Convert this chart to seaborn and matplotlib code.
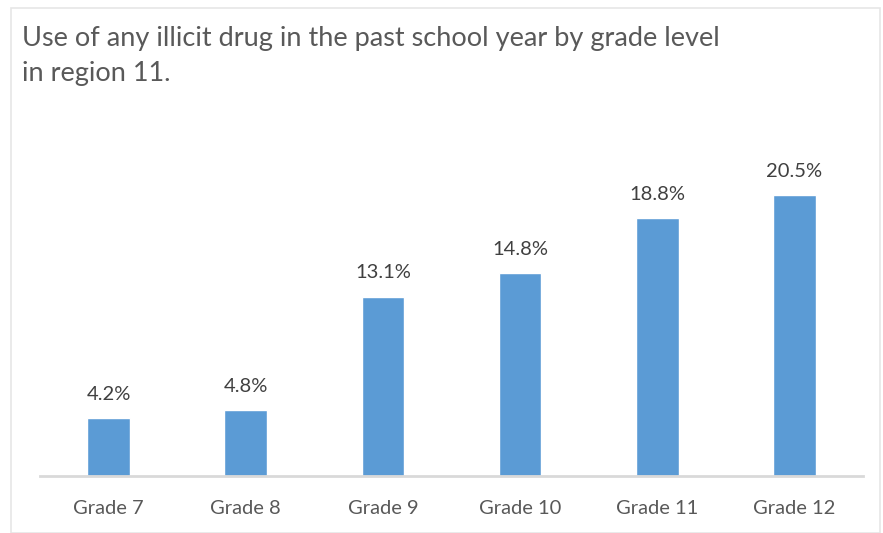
import matplotlib
matplotlib.use("Agg")
import matplotlib.pyplot as plt
import seaborn as sns
import pandas as pd
from matplotlib.patches import Rectangle

grades = ["Grade 7", "Grade 8", "Grade 9", "Grade 10", "Grade 11", "Grade 12"]
values = [4.2, 4.8, 13.1, 14.8, 18.8, 20.5]
labels = ["4.2%", "4.8%", "13.1%", "14.8%", "18.8%", "20.5%"]
title = "Use of any illicit drug in the past school year by grade level\nin region 11."

sns.set_theme(style="white")
plt.rcParams['font.family'] = ['Lato', 'DejaVu Sans']

W, H = 883, 533
fig = plt.figure(figsize=(W / 100, H / 100), dpi=100)
fig.patch.set_facecolor("white")
fig.add_artist(Rectangle((11 / W, 0), (880 - 11) / W, (H - 8) / H, transform=fig.transFigure,
                         fill=False, edgecolor="#E6E6E6", linewidth=1.2))

ax = fig.add_axes([40 / W, (H - 476) / H, (863 - 40) / W, (476 - 133.5) / H])
df = pd.DataFrame({"grade": grades, "value": values})
sns.barplot(data=df, x="grade", y="value", color="#5B9BD5", saturation=1, width=0.31, ax=ax)

ax.set_ylim(0, 25)
ax.set_xlim(-0.5, 5.5)
ax.set_xlabel("")
ax.set_ylabel("")
ax.set_yticks([])
for s in ["top", "right", "left"]:
    ax.spines[s].set_visible(False)
ax.spines["bottom"].set_color("#D9D9D9")
ax.spines["bottom"].set_linewidth(2)
ax.tick_params(axis="x", length=0, pad=17, labelsize=14.5, colors="#595959")

for i, (v, lab) in enumerate(zip(values, labels)):
    ax.annotate(lab, (i, v), xytext=(0, 11), textcoords="offset points", ha="center",
                va="bottom", fontsize=14.5, color="#404040")

fig.text(22 / W, 1 - 26 / H, title, ha="left", va="top", fontsize=19.5, color="#595959",
         linespacing=1.5)

fig.savefig("out.png", dpi=100, facecolor="white")
